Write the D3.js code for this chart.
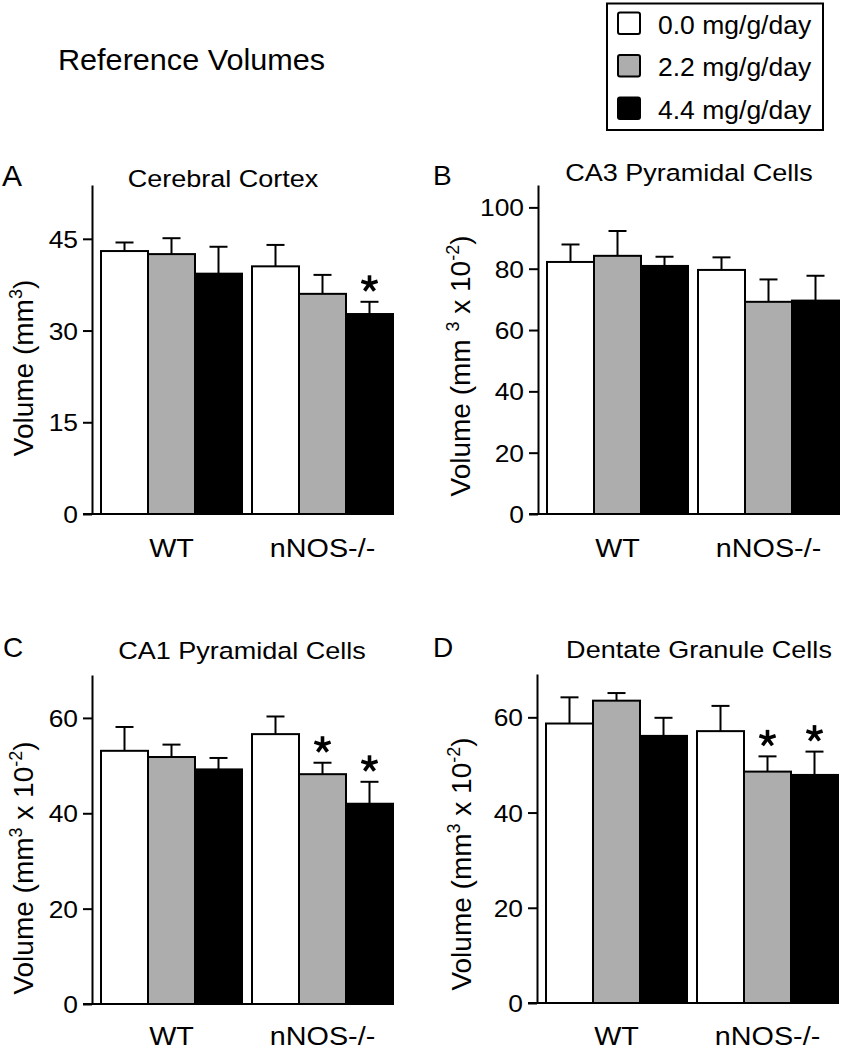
<!DOCTYPE html>
<html>
<head>
<meta charset="utf-8">
<script src="https://cdn.jsdelivr.net/npm/d3@7"></script>
<style>
  html, body { margin: 0; padding: 0; background: #fff; }
  svg { display: block; }
  text { font-family: "Liberation Sans", Arial, sans-serif; fill: #000; }
</style>
</head>
<body>
<svg id="chart" width="841" height="1050"></svg>
<script>
// ---------- data ----------
const groups = ["WT", "nNOS-/-"];
const doses = ["0.0 mg/g/day", "2.2 mg/g/day", "4.4 mg/g/day"];
const doseFills = ["#ffffff", "#adadad", "#000000"];

// order: WT 0.0, WT 2.2, WT 4.4, nNOS 0.0, nNOS 2.2, nNOS 4.4
const cortexMean = [43.0, 42.5, 39.3, 40.5, 36.0, 32.7];
const cortexSem  = [1.4, 2.6, 4.4, 3.5, 3.1, 2.0];
const cortexSig  = [0, 0, 0, 0, 0, 1];
const cortexTicks = [0, 15, 30, 45];

const ca3Mean = [82.2, 84.2, 80.9, 79.6, 69.2, 69.6];
const ca3Sem  = [5.7, 8.1, 3.0, 4.1, 7.3, 8.1];
const ca3Sig  = [0, 0, 0, 0, 0, 0];
const ca3Ticks = [0, 20, 40, 60, 80, 100];

const ca1Mean = [53.1, 51.8, 49.2, 56.6, 48.2, 42.0];
const ca1Sem  = [5.0, 2.6, 2.4, 3.7, 2.4, 4.6];
const ca1Sig  = [0, 0, 0, 0, 1, 1];
const ca1Ticks = [0, 20, 40, 60];

const dgMean = [58.7, 63.5, 56.1, 57.1, 48.6, 47.9];
const dgSem  = [5.5, 1.6, 3.8, 5.3, 3.2, 4.9];
const dgSig  = [0, 0, 0, 0, 1, 1];
const dgTicks = [0, 20, 40, 60];

const figTitle = "Reference Volumes";

// ---------- layout ----------
const panels = [
  { letter: "A", title: "Cerebral Cortex", mean: cortexMean, sem: cortexSem, sig: cortexSig, ticks: cortexTicks,
    yMax: 53.8, axisX: 92, top: 185, base: 514, letterX: 2, letterY: 186, letterSize: 30,
    titleX: 223, titleY: 187, ylab: [["Volume (mm", 0], ["3", 1], [")", 0]], ylabX: 33, ylabCy: 368, xlabY: 557 },
  { letter: "B", title: "CA3 Pyramidal Cells", mean: ca3Mean, sem: ca3Sem, sig: ca3Sig, ticks: ca3Ticks,
    yMax: 107.3, axisX: 538, top: 185, base: 514, letterX: 433, letterY: 185, letterSize: 28,
    titleX: 689, titleY: 181, ylab: [["Volume (mm ", 0], ["3", 1], [" x 10", 0], ["-2", 1], [")", 0]], ylabX: 470, ylabCy: 366, xlabY: 557 },
  { letter: "C", title: "CA1 Pyramidal Cells", mean: ca1Mean, sem: ca1Sem, sig: ca1Sig, ticks: ca1Ticks,
    yMax: 69, axisX: 92, top: 675, base: 1004, letterX: 3, letterY: 657, letterSize: 28,
    titleX: 242, titleY: 659, ylab: [["Volume (mm", 0], ["3", 1], [" x 10", 0], ["-2", 1], [")", 0]], ylabX: 33, ylabCy: 868, xlabY: 1045 },
  { letter: "D", title: "Dentate Granule Cells", mean: dgMean, sem: dgSem, sig: dgSig, ticks: dgTicks,
    yMax: 69.1, axisX: 537, top: 674, base: 1003, letterX: 433, letterY: 657, letterSize: 28,
    titleX: 699, titleY: 658, ylab: [["Volume (mm", 0], ["3", 1], [" x 10", 0], ["-2", 1], [")", 0]], ylabX: 471, ylabCy: 864, xlabY: 1045 }
];

const svg = d3.select("#chart");

function stretchText(parent, x, y, str, size, sx, anchor) {
  return parent.append("text")
    .attr("transform", `translate(${x},${y}) scale(${sx},1)`)
    .attr("text-anchor", anchor || "start")
    .style("font-size", size + "px")
    .text(str);
}

// figure title
stretchText(svg, 58, 70, figTitle, 30, 1.02, "start");

// legend
const leg = svg.append("g");
leg.append("rect").attr("x", 607).attr("y", 3.5).attr("width", 216).attr("height", 126.5)
  .attr("fill", "#fff").attr("stroke", "#000").attr("stroke-width", 2);
doses.forEach((d, i) => {
  const yy = 12.5 + i * 42.5;
  leg.append("rect").attr("x", 618).attr("y", yy).attr("width", 22).attr("height", 21.5).attr("rx", 2)
    .attr("fill", doseFills[i]).attr("stroke", "#000").attr("stroke-width", 2);
  stretchText(leg, 658, yy + 21, d, 26.5, 1.0, "start");
});

const barStroke = 2;

panels.forEach(p => {
  const g = svg.append("g");
  const y = d3.scaleLinear().domain([0, p.yMax]).range([p.base, p.top]);
  const x0 = d3.scaleBand().domain(groups)
    .range([p.axisX + 9, p.axisX + 301]).paddingInner(10 / 151).paddingOuter(0);
  const x1 = d3.scaleBand().domain(doses).range([0, x0.bandwidth()]);

  const rows = [];
  groups.forEach((grp, gi) => doses.forEach((d, di) => {
    const k = gi * 3 + di;
    rows.push({ grp, d, di, mean: p.mean[k], sem: p.sem[k], sig: p.sig[k] });
  }));

  // bars
  g.selectAll("rect.bar").data(rows).join("rect")
    .attr("class", "bar")
    .attr("x", r => x0(r.grp) + x1(r.d))
    .attr("y", r => y(r.mean))
    .attr("width", x1.bandwidth())
    .attr("height", r => y(0) - y(r.mean))
    .attr("fill", r => doseFills[r.di])
    .attr("stroke", "#000").attr("stroke-width", barStroke);

  // error bars (upward only)
  const cx = r => x0(r.grp) + x1(r.d) + x1.bandwidth() / 2;
  g.selectAll("line.err").data(rows).join("line")
    .attr("class", "err")
    .attr("x1", cx).attr("x2", cx)
    .attr("y1", r => y(r.mean)).attr("y2", r => y(r.mean + r.sem))
    .attr("stroke", "#000").attr("stroke-width", 2);
  g.selectAll("line.cap").data(rows).join("line")
    .attr("class", "cap")
    .attr("x1", r => cx(r) - 9).attr("x2", r => cx(r) + 9)
    .attr("y1", r => y(r.mean + r.sem)).attr("y2", r => y(r.mean + r.sem))
    .attr("stroke", "#000").attr("stroke-width", 2);

  // significance asterisks
  rows.filter(r => r.sig).forEach(r => {
    const sx = cx(r), sy = y(r.mean + r.sem) - 18;
    const star = g.append("g").attr("transform", `translate(${sx},${sy})`);
    for (let a = 0; a < 5; a++) {
      const ang = (-90 + a * 72) * Math.PI / 180;
      star.append("line")
        .attr("x1", 0).attr("y1", 0)
        .attr("x2", 8.5 * Math.cos(ang)).attr("y2", 8.5 * Math.sin(ang))
        .attr("stroke", "#000").attr("stroke-width", 3.6).attr("stroke-linecap", "butt");
    }
  });

  // y axis
  const ax = g.append("g").attr("transform", `translate(${p.axisX},0)`)
    .call(d3.axisLeft(y).tickValues(p.ticks).tickSize(9).tickSizeOuter(0).tickPadding(5));
  ax.select(".domain").attr("stroke", "#000").attr("stroke-width", 2);
  ax.selectAll(".tick line").attr("stroke", "#000").attr("stroke-width", 2);
  ax.selectAll(".tick text")
    .style("font-size", "24px")
    .style("font-family", "'Liberation Sans', Arial, sans-serif")
    .attr("fill", "#000")
    .attr("x", null).attr("dy", null)
    .attr("dominant-baseline", "central")
    .attr("transform", "translate(-14,0) scale(1.1,1)");

  // x baseline
  g.append("line")
    .attr("x1", p.axisX - 9).attr("x2", x0.range()[1] + 1)
    .attr("y1", y(0)).attr("y2", y(0))
    .attr("stroke", "#000").attr("stroke-width", 2);

  // group labels
  groups.forEach(grp => {
    stretchText(g, x0(grp) + x0.bandwidth() / 2, p.xlabY, grp, 25, 1.15, "middle");
  });

  // panel letter & title
  stretchText(g, p.letterX, p.letterY, p.letter, p.letterSize, 1.0, "start");
  stretchText(g, p.titleX, p.titleY, p.title, 23.5, 1.15, "middle");

  // y label
  const yl = g.append("text")
    .attr("transform", `translate(${p.ylabX},${p.ylabCy}) rotate(-90)`)
    .attr("text-anchor", "middle")
    .style("font-size", "28px");
  let shifted = false;
  p.ylab.forEach(([s, sup]) => {
    const t = yl.append("tspan").text(s);
    if (sup && !shifted) { t.attr("dy", -11).style("font-size", "18px"); shifted = true; }
    else if (!sup && shifted) { t.attr("dy", 11); shifted = false; }
    else if (sup) { t.style("font-size", "18px"); }
  });
});
</script>
</body>
</html>
